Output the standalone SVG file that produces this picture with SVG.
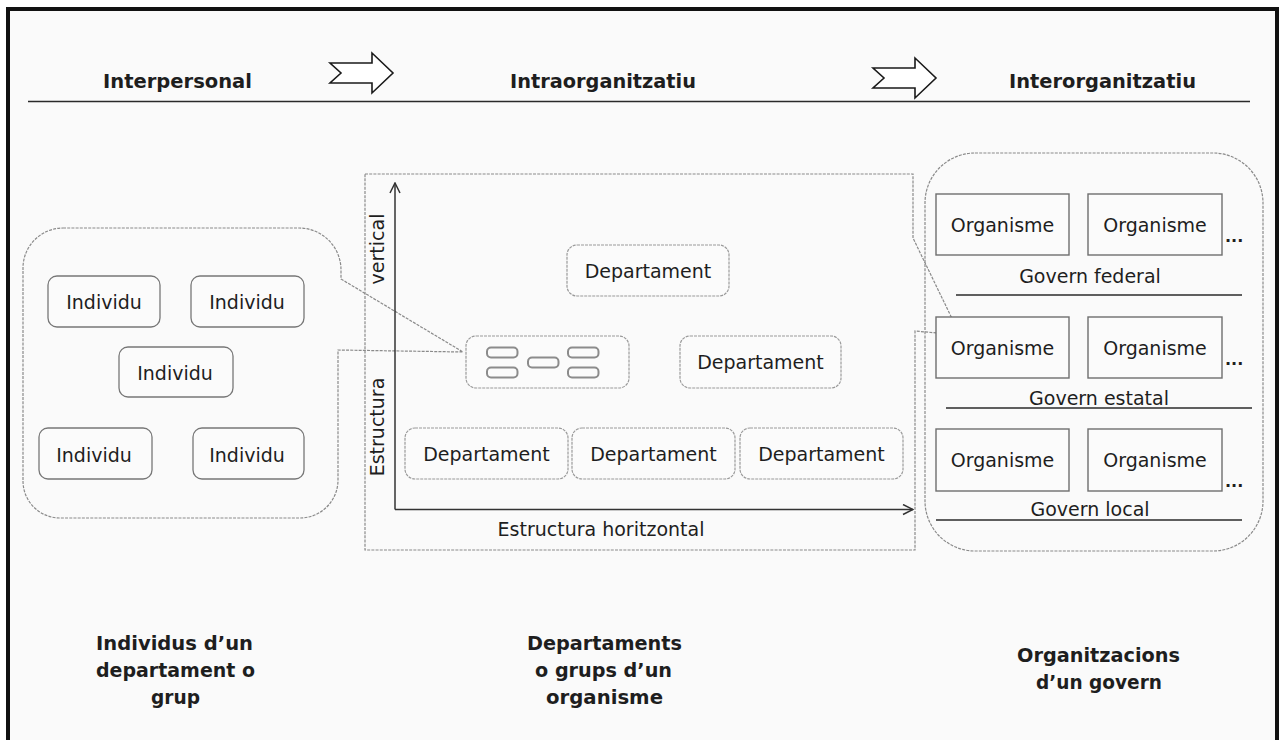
<svg xmlns="http://www.w3.org/2000/svg" width="1281" height="740" viewBox="0 0 1281 740">
  <style>
    text { font-family: "DejaVu Sans", Verdana, sans-serif; fill: #1e1e1e; }
    .hdr { font-size: 19.5px; font-weight: bold; text-anchor: middle; }
    .cap { font-size: 20px; font-weight: bold; text-anchor: middle; }
    .lbl { font-size: 19px; text-anchor: middle; }
    .dots { font-size: 16px; font-weight: bold; }
    .shell { fill: none; stroke: #8a8a8a; stroke-width: 1.2; stroke-dasharray: 3 1.2; }
    .ind { fill: #fbfbfb; stroke: #777; stroke-width: 1.3; }
    .dep { fill: #fbfbfb; stroke: #9a9a9a; stroke-width: 1.2; stroke-dasharray: 3 1; }
    .mini { fill: #fbfbfb; stroke: #8c8c8c; stroke-width: 2; }
    .org { fill: #fbfbfb; stroke: #6e6e6e; stroke-width: 1.4; }
    .rule { stroke: #2a2a2a; stroke-width: 1.6; }
    .axis { fill: none; stroke: #333; stroke-width: 1.5; }
    .block { fill: #fff; stroke: #1a1a1a; stroke-width: 1.6; stroke-linejoin: miter; }
  </style>
  <defs>
    <marker id="open" viewBox="0 0 12 12" refX="11" refY="6" markerWidth="12" markerHeight="12" markerUnits="userSpaceOnUse" orient="auto">
      <path d="M1,1 L11,6 L1,11" fill="none" stroke="#333" stroke-width="1.5"/>
    </marker>
    <path id="blockArrow" d="M0,-10 H42 V-20 L63,0 L42,20 V10 H0 L11,0 Z"/>
  </defs>

  <!-- page -->
  <rect x="0" y="0" width="1281" height="740" fill="#ffffff"/>
  <rect x="8" y="9" width="1270" height="740" fill="#fafafa"/>
  <path d="M8,745 V9 H1277 V745" fill="none" stroke="#111" stroke-width="4"/>

  <!-- header band -->
  <g id="header">
    <line x1="28" y1="101.5" x2="1250" y2="101.5" class="rule"/>
    <text class="hdr" x="177.5" y="88" textLength="149" lengthAdjust="spacingAndGlyphs">Interpersonal</text>
    <text class="hdr" x="603" y="88" textLength="186" lengthAdjust="spacingAndGlyphs">Intraorganitzatiu</text>
    <text class="hdr" x="1102.5" y="88" textLength="187" lengthAdjust="spacingAndGlyphs">Interorganitzatiu</text>
    <use href="#blockArrow" x="330" y="73" class="block"/>
    <use href="#blockArrow" x="873" y="78" class="block"/>
  </g>

  <!-- individuals: callout container pointing at the small department -->
  <g id="individus">
    <path class="shell" d="M63,228 H298 A42,42 0 0 1 341,270 V279 L463,352 L338,350 V480 A38,38 0 0 1 300,518 H60 A37,37 0 0 1 23,481 V268 A40,40 0 0 1 63,228 Z"/>
    <g id="ind1"><rect class="ind" x="48" y="276" width="112" height="51" rx="9"/><text class="lbl" x="104" y="309">Individu</text></g>
    <g id="ind2"><rect class="ind" x="191" y="276" width="113" height="51" rx="9"/><text class="lbl" x="247" y="309">Individu</text></g>
    <g id="ind3"><rect class="ind" x="119" y="347" width="114" height="50" rx="9"/><text class="lbl" x="175" y="380">Individu</text></g>
    <g id="ind4"><rect class="ind" x="39" y="428" width="113" height="51" rx="9"/><text class="lbl" x="94" y="462">Individu</text></g>
    <g id="ind5"><rect class="ind" x="193" y="428" width="111" height="51" rx="9"/><text class="lbl" x="247" y="462">Individu</text></g>
  </g>

  <!-- departments: callout container pointing at one organisme -->
  <g id="departaments">
    <path class="shell" d="M365,174 H913 V238 L960,335 L915,331 V550 H365 Z"/>
    <g id="dep-top"><rect class="dep" x="567" y="245" width="162" height="51" rx="10"/><text class="lbl" x="648" y="278">Departament</text></g>
    <g id="dep-group">
      <rect class="dep" x="466" y="336" width="163" height="52" rx="10"/>
      <rect class="mini" x="487" y="347.5" width="30.5" height="10" rx="4"/>
      <rect class="mini" x="487" y="367.5" width="30.5" height="10" rx="4"/>
      <rect class="mini" x="528" y="357.5" width="30.5" height="10" rx="4"/>
      <rect class="mini" x="568" y="347.5" width="30.5" height="10" rx="4"/>
      <rect class="mini" x="568" y="367.5" width="30.5" height="10" rx="4"/>
    </g>
    <g id="dep-right"><rect class="dep" x="680" y="336" width="161" height="52" rx="10"/><text class="lbl" x="760.5" y="369">Departament</text></g>
    <g id="dep-b1"><rect class="dep" x="405" y="428" width="163" height="51" rx="10"/><text class="lbl" x="486.5" y="461">Departament</text></g>
    <g id="dep-b2"><rect class="dep" x="572" y="428" width="163" height="51" rx="10"/><text class="lbl" x="653.5" y="461">Departament</text></g>
    <g id="dep-b3"><rect class="dep" x="740" y="428" width="163" height="51" rx="10"/><text class="lbl" x="821.5" y="461">Departament</text></g>
    <text class="lbl" transform="translate(384,249) rotate(-90)">vertical</text>
    <text class="lbl" transform="translate(384,427) rotate(-90)">Estructura</text>
    <text class="lbl" x="601" y="536">Estructura horitzontal</text>
  </g>

  <!-- governments -->
  <g id="governs">
    <rect class="shell" x="925" y="153" width="338" height="398" rx="50"/>
    <g id="federal">
      <rect class="org" x="936" y="194" width="133" height="61"/><text class="lbl" x="1002.5" y="231.5">Organisme</text>
      <rect class="org" x="1088" y="194" width="134" height="61"/><text class="lbl" x="1155" y="231.5">Organisme</text>
      <text class="dots" x="1225" y="242">...</text>
      <text class="lbl" x="1090" y="283">Govern federal</text>
      <line x1="956" y1="295" x2="1242" y2="295" class="rule" stroke="#555"/>
    </g>
    <g id="estatal">
      <rect class="org" x="936" y="317" width="133" height="61"/><text class="lbl" x="1002.5" y="354.5">Organisme</text>
      <rect class="org" x="1088" y="317" width="134" height="61"/><text class="lbl" x="1155" y="354.5">Organisme</text>
      <text class="dots" x="1225" y="365">...</text>
      <text class="lbl" x="1099" y="405">Govern estatal</text>
      <line x1="946" y1="408" x2="1252" y2="408" class="rule"/>
    </g>
    <g id="local">
      <rect class="org" x="936" y="429" width="133" height="62"/><text class="lbl" x="1002.5" y="467">Organisme</text>
      <rect class="org" x="1088" y="429" width="134" height="62"/><text class="lbl" x="1155" y="467">Organisme</text>
      <text class="dots" x="1225" y="487">...</text>
      <text class="lbl" x="1090" y="516">Govern local</text>
      <line x1="936" y1="520" x2="1242" y2="520" class="rule"/>
    </g>
  </g>

  <!-- structure axes -->
  <g id="connectors">
    <line class="axis" x1="395" y1="509.5" x2="395" y2="183" marker-end="url(#open)"/>
    <line class="axis" x1="395" y1="509.5" x2="913" y2="509.5" marker-end="url(#open)"/>
  </g>

  <!-- captions -->
  <g id="captions">
    <text class="cap" x="174.5" y="650" textLength="157" lengthAdjust="spacingAndGlyphs">Individus d’un</text>
    <text class="cap" x="175.5" y="677" textLength="159" lengthAdjust="spacingAndGlyphs">departament o</text>
    <text class="cap" x="175.5" y="704" textLength="49" lengthAdjust="spacingAndGlyphs">grup</text>
    <text class="cap" x="604.5" y="650" textLength="155" lengthAdjust="spacingAndGlyphs">Departaments</text>
    <text class="cap" x="603.5" y="677" textLength="137" lengthAdjust="spacingAndGlyphs">o grups d’un</text>
    <text class="cap" x="604.5" y="704" textLength="117" lengthAdjust="spacingAndGlyphs">organisme</text>
    <text class="cap" x="1098.5" y="662" textLength="163" lengthAdjust="spacingAndGlyphs">Organitzacions</text>
    <text class="cap" x="1099" y="689" textLength="126" lengthAdjust="spacingAndGlyphs">d’un govern</text>
  </g>
</svg>
